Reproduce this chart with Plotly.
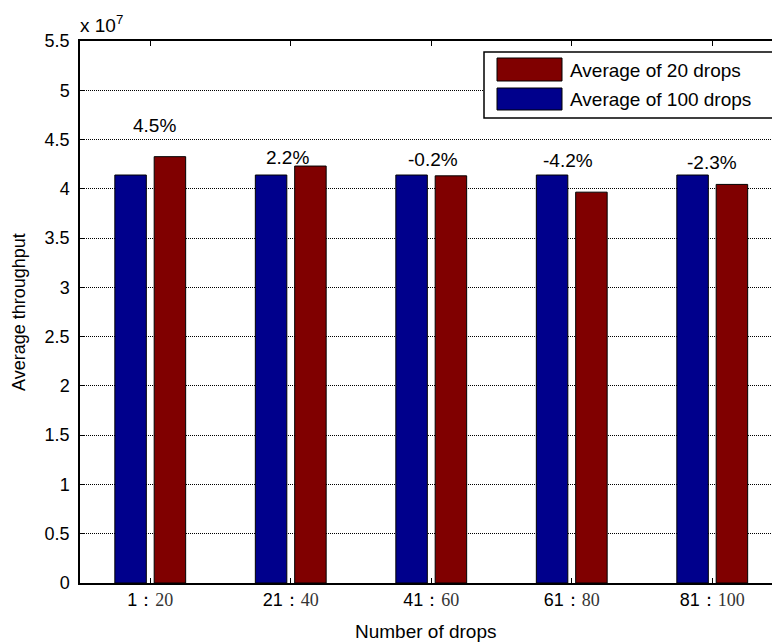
import plotly.graph_objects as go

# Drop ranges (x groups) and the average throughput of each group
groups = [1, 2, 3, 4, 5]
range_start = ["1", "21", "41", "61", "81"]
range_end = ["20", "40", "60", "80", "100"]
avg_100 = [4.14e7, 4.14e7, 4.14e7, 4.14e7, 4.14e7]   # average of 100 drops
pct_diff = [4.5, 2.2, -0.2, -4.2, -2.3]               # 20-drop average vs 100-drop average
avg_20 = [b * (1 + p / 100.0) for b, p in zip(avg_100, pct_diff)]

y_ticks = [0, 0.5, 1, 1.5, 2, 2.5, 3, 3.5, 4, 4.5, 5, 5.5]
exponent = 7

# where the percentage labels sit (x in group units, y in throughput units)
label_x = [1.03, 1.98, 3.01, 3.97, 5.0]
label_y = [4.647e7, 4.32e7, 4.30e7, 4.29e7, 4.27e7]

RED = "#800000"
BLUE = "#00008c"
SANS = "Liberation Sans, Arial, sans-serif"
SERIF = "Liberation Serif, Times New Roman, serif"

W, H = 772, 643
L, R, T, B = 80, 0, 41, 60


def px(x):
    return (x - L) / (W - L - R)


def py(y):
    return (H - B - y) / (H - T - B)


fig = go.Figure()
fig.add_trace(go.Bar(x=groups, y=avg_100, name="Average of 100 drops",
                     marker=dict(color=BLUE, line=dict(color="black", width=1)),
                     showlegend=False))
fig.add_trace(go.Bar(x=groups, y=avg_20, name="Average of 20 drops",
                     marker=dict(color=RED, line=dict(color="black", width=1)),
                     showlegend=False))

tick_text = [f"{a}：<span style='font-family:{SERIF};color:#333'>{b}</span>"
             for a, b in zip(range_start, range_end)]

annotations = []
for x, y, p in zip(label_x, label_y, pct_diff):
    annotations.append(dict(x=x, y=y, xref="x", yref="y", text=f"{p:.1f}%",
                            showarrow=False, xanchor="center", yanchor="middle",
                            font=dict(family=SANS, size=19, color="black")))

# axis titles and exponent
annotations.append(dict(x=0.5, y=py(631), xref="paper", yref="paper", text="Number of drops",
                        showarrow=False, xanchor="center", yanchor="middle",
                        font=dict(family=SANS, size=19, color="black")))
annotations.append(dict(x=px(19), y=0.5, xref="paper", yref="paper", text="Average throughput",
                        textangle=-90, showarrow=False, xanchor="center", yanchor="middle",
                        font=dict(family=SANS, size=18, color="black")))
annotations.append(dict(x=px(78), y=py(24), xref="paper", yref="paper",
                        text=f"x 10<sup>{exponent}</sup>", showarrow=False,
                        xanchor="left", yanchor="middle",
                        font=dict(family=SANS, size=19, color="black")))

# legend drawn as boxes with wide swatches
shapes = [
    dict(type="rect", xref="paper", yref="paper", x0=px(484), x1=px(800),
         y0=py(52), y1=py(118), line=dict(color="black", width=1.5), fillcolor="white"),
    dict(type="rect", xref="paper", yref="paper", x0=px(497), x1=px(562),
         y0=py(58), y1=py(81), line=dict(color="black", width=1), fillcolor=RED),
    dict(type="rect", xref="paper", yref="paper", x0=px(497), x1=px(562),
         y0=py(88), y1=py(110), line=dict(color="black", width=1), fillcolor=BLUE),
]
for name, yc in [("Average of 20 drops", 70), ("Average of 100 drops", 99)]:
    annotations.append(dict(x=px(568), y=py(yc), xref="paper", yref="paper", text=name,
                            showarrow=False, xanchor="left", yanchor="middle",
                            font=dict(family=SANS, size=19, color="black")))

fig.update_layout(
    width=W, height=H,
    margin=dict(l=L, r=R, t=T, b=B),
    paper_bgcolor="white", plot_bgcolor="white",
    barmode="group", bargap=0.44, bargroupgap=0.2,
    font=dict(family=SANS, size=18, color="black"),
    annotations=annotations,
    shapes=shapes,
    xaxis=dict(range=[0.5, 0.5 + (W - L - R) / 140.5], tickmode="array",
               tickvals=groups, ticktext=tick_text, ticks="inside", ticklen=5,
               tickcolor="black", showline=True, linecolor="black", linewidth=1.5,
               mirror="ticks", showgrid=False, zeroline=False,
               tickfont=dict(family=SANS, size=18, color="black")),
    yaxis=dict(range=[0, 5.5e7], tickmode="array",
               tickvals=[v * 10 ** exponent for v in y_ticks],
               ticktext=[f"{v:g}" for v in y_ticks],
               ticks="inside", ticklen=5, tickcolor="black",
               showline=True, linecolor="black", linewidth=1.5, mirror=False,
               showgrid=True, gridcolor="black", gridwidth=1, griddash="1px,1px",
               zeroline=False, ticklabelstandoff=5,
               tickfont=dict(family=SANS, size=18, color="black")),
)

fig.write_html("out.html")
